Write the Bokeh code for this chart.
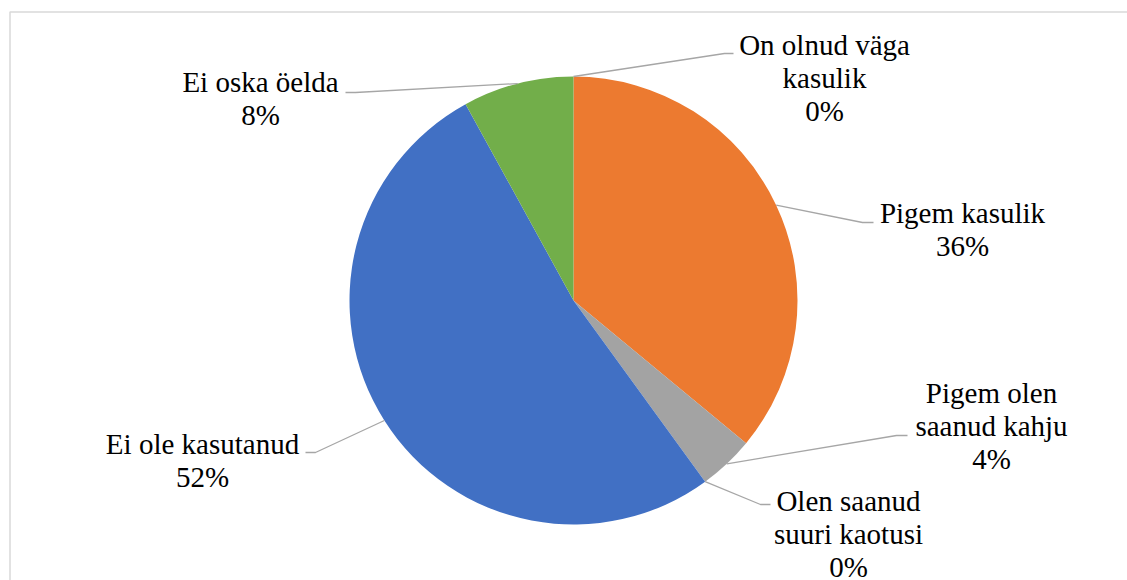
import math
from bokeh.plotting import figure
from bokeh.models import Range1d, ColumnDataSource, Label
from bokeh.embed import file_html
from bokeh.resources import INLINE

# ---- data ----
categories = ["On olnud väga\nkasulik", "Pigem kasulik", "Pigem olen\nsaanud kahju",
              "Olen saanud\nsuuri kaotusi", "Ei ole kasutanud", "Ei oska öelda"]
shares = [0, 36, 4, 0, 52, 8]
colors = ["#5B9BD5", "#EC7A30", "#A3A3A3", "#FFC000", "#4170C4", "#72AE4A"]

# ---- layout (pixels) ----
W, H = 1127, 580
CX, CY, R = 573, 300, 224
label_cx = [824, 962, 991, 848, 202, 260]
label_base = [54, 222, 402, 510, 453, 91]
elbow = [(724, 53), (862, 222), (896, 435), (760, 504), (315, 452), (355, 92)]
tail = [(733, 53), (873, 222), (907, 435), (770, 504), (305, 452), (345, 92)]
LINE_H = 33.3
DESCENT = 6

p = figure(width=W, height=H, output_backend="svg", toolbar_location=None,
           x_range=Range1d(0, W), y_range=Range1d(0, H), min_border=0)
p.axis.visible = False
p.xgrid.grid_line_color = None
p.ygrid.grid_line_color = None
p.outline_line_alpha = 0

total = float(sum(shares))
starts, ends, mids = [], [], []
c = 0.0
for v in shares:
    c0 = c / total
    c += v
    c1 = c / total
    starts.append(math.pi / 2 - 2 * math.pi * c0)
    ends.append(math.pi / 2 - 2 * math.pi * c1)
    mids.append(math.pi / 2 - 2 * math.pi * (c0 + c1) / 2)

idx = [i for i, v in enumerate(shares) if v > 0]
wsrc = ColumnDataSource(dict(
    x=[CX] * len(idx), y=[H - CY] * len(idx),
    start=[starts[i] for i in idx], end=[ends[i] for i in idx],
    color=[colors[i] for i in idx]))
p.wedge(x="x", y="y", radius=R, start_angle="start", end_angle="end",
        direction="clock", fill_color="color", line_color=None, source=wsrc)

xs, ys = [], []
for i in range(len(shares)):
    ex = CX + R * math.cos(mids[i])
    ey = (H - CY) + R * math.sin(mids[i])
    xs.append([ex, elbow[i][0], tail[i][0]])
    ys.append([ey, H - elbow[i][1], H - tail[i][1]])
p.multi_line(xs, ys, line_color="#A6A6A6", line_width=1.3)

# chart frame border (top and left edges; right/bottom lie outside the window)
p.multi_line([[9.5, 9.5, W + 5]], [[-5, H - 11.5, H - 11.5]],
             line_color="#D9D9D9", line_width=1.5)

# labels
for i, cat in enumerate(categories):
    lines = cat.split("\n") + [f"{shares[i]}%"]
    for k, ln in enumerate(lines):
        p.add_layout(Label(x=label_cx[i], y=H - (label_base[i] + k * LINE_H + DESCENT),
                           text=ln, text_font="Liberation Serif", text_font_size="29px",
                           text_align="center", text_baseline="bottom",
                           text_color="black"))

with open("out.html", "w", encoding="utf-8") as fh:
    fh.write(file_html(p, INLINE))
